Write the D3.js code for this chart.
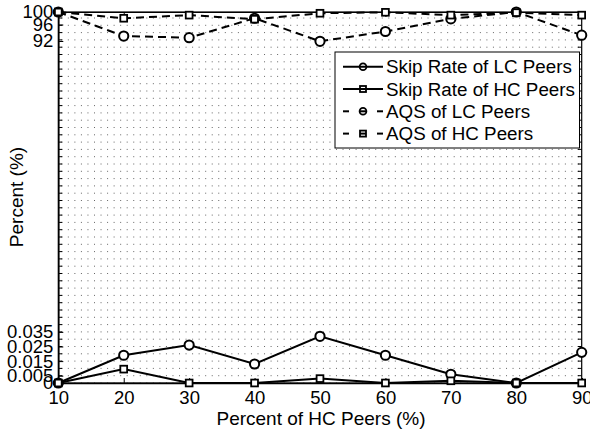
<!DOCTYPE html>
<html><head><meta charset="utf-8">
<script src="https://cdn.jsdelivr.net/npm/d3@7"></script>
<style>
html,body{margin:0;padding:0;background:#fff;}
text{font-family:"Liberation Sans",Arial,Helvetica,sans-serif;fill:#000;}
</style></head>
<body><svg id="c" width="590" height="436"></svg>
<script>
const categories = [10, 20, 30, 40, 50, 60, 70, 80, 90];
const skipLC = [0, 0.019, 0.026, 0.013, 0.032, 0.019, 0.006, 0, 0.021];
const skipHC = [0, 0.0095, 0, 0, 0.003, 0, 0.0015, 0, 0];
const aqsLC = [100, 93.2, 92.8, 98, 91.9, 94.3, 97.8, 100, 93.4];
const aqsHC = [100, 98, 99, 97.7, 99.6, 99.9, 99, 99.8, 99];
const yTickValues = [0, 0.005, 0.015, 0.025, 0.035, 92, 96, 100];
const yTickLabels = ["0", "0.005", "0.015", "0.025", "0.035", "92", "96", "100"];
const seriesNames = ["Skip Rate of LC Peers", "Skip Rate of HC Peers", "AQS of LC Peers", "AQS of HC Peers"];

const L = 58.3, R = 581.7, T = 12, B = 383;
const svg = d3.select("#c");
const x = d3.scaleLinear().domain([10, 90]).range([L, R]);
const yLow = d3.scaleLinear().domain([0, 0.01]).range([B, B - 14.6]);
const y = d3.scaleLinear().domain([0, 0.035, 92, 96, 100])
  .range([yLow(0), yLow(0.035), 41, 24.5, T]);

const rows = d3.range(0, 1, 0.005).filter(v => yLow(v) >= T + 3);
const grid = svg.append("g");
rows.forEach(v => {
  grid.append("line").attr("x1", L).attr("x2", R).attr("y1", yLow(v)).attr("y2", yLow(v))
    .attr("stroke", "#666").attr("stroke-width", 1).attr("stroke-dasharray", "1,5.54")
    .attr("stroke-dashoffset", -3);
});
rows.forEach(v => {
  svg.append("line").attr("x1", L).attr("x2", L + 4).attr("y1", yLow(v)).attr("y2", yLow(v)).attr("stroke", "#000");
  svg.append("line").attr("x1", R).attr("x2", R - 4).attr("y1", yLow(v)).attr("y2", yLow(v)).attr("stroke", "#000");
});

svg.append("rect").attr("x", L).attr("y", T).attr("width", R - L).attr("height", B - T)
  .attr("fill", "none").attr("stroke", "#000").attr("stroke-width", 1.2);

const xAxis = d3.axisBottom(x).tickValues(categories).tickSize(-5).tickPadding(8).tickFormat(d3.format("d"));
const gx = svg.append("g").attr("transform", `translate(0,${B})`).call(xAxis);
gx.select(".domain").attr("stroke", "#000").attr("stroke-width", 1.6);
gx.selectAll("text").attr("font-size", 18.5).attr("font-family", "Liberation Sans, Arial, sans-serif").attr("fill", "#000");
gx.selectAll(".tick line").attr("stroke", "#000");
const xTop = d3.axisTop(x).tickValues(categories).tickSize(-5).tickFormat("");
const gxt = svg.append("g").attr("transform", `translate(0,${T})`).call(xTop);
gxt.select(".domain").attr("stroke", "#000").attr("stroke-width", 1.2);

const yAxis = d3.axisLeft(y).tickValues(yTickValues).tickSize(-5).tickPadding(5)
  .tickFormat((d, i) => yTickLabels[i]);
const gy = svg.append("g").attr("transform", `translate(${L},0)`).call(yAxis);
gy.select(".domain").attr("stroke", "#000").attr("stroke-width", 1.6);
gy.selectAll("text").attr("font-size", 18.5).attr("font-family", "Liberation Sans, Arial, sans-serif").attr("fill", "#000");
gy.selectAll(".tick line").attr("stroke", "#000");

svg.append("text").attr("x", (L + R) / 2 + 1).attr("y", 425).attr("text-anchor", "middle")
  .attr("font-size", 19).text("Percent of HC Peers (%)");
svg.append("text").attr("transform", `translate(23,197) rotate(-90)`).attr("text-anchor", "middle")
  .attr("font-size", 19).text("Percent (%)");

const series = [
  {vals: skipLC, marker: "circle", dash: null},
  {vals: skipHC, marker: "square", dash: null},
  {vals: aqsLC, marker: "circle", dash: "8,5"},
  {vals: aqsHC, marker: "square", dash: "8,5"}
];
const line = d3.line().x((d, i) => x(categories[i])).y(d => y(d));
series.forEach(s => {
  svg.append("path").datum(s.vals).attr("d", line).attr("fill", "none").attr("stroke", "#000")
    .attr("stroke-width", 2).attr("stroke-dasharray", s.dash);
});
series.forEach(s => {
  const g = svg.append("g");
  s.vals.forEach((v, i) => {
    if (s.marker === "circle") {
      g.append("circle").attr("cx", x(categories[i])).attr("cy", y(v)).attr("r", 4.6)
        .attr("fill", "#fff").attr("stroke", "#000").attr("stroke-width", 2);
    } else {
      g.append("rect").attr("x", x(categories[i]) - 3.4).attr("y", y(v) - 3.4).attr("width", 6.8).attr("height", 6.8)
        .attr("fill", "#fff").attr("stroke", "#000").attr("stroke-width", 1.8);
    }
  });
});

const lg = svg.append("g");
lg.append("rect").attr("x", 335).attr("y", 52).attr("width", 244.5).attr("height", 96)
  .attr("fill", "#fff").attr("stroke", "#000").attr("stroke-width", 1);
series.forEach((s, i) => {
  const cy = 66.7 + i * 22.3;
  if (s.dash) {
    lg.append("line").attr("x1", 343).attr("x2", 349).attr("y1", cy).attr("y2", cy).attr("stroke", "#000").attr("stroke-width", 2);
    lg.append("line").attr("x1", 377).attr("x2", 383).attr("y1", cy).attr("y2", cy).attr("stroke", "#000").attr("stroke-width", 2);
    lg.append("line").attr("x1", 360).attr("x2", 366).attr("y1", cy).attr("y2", cy).attr("stroke", "#000").attr("stroke-width", 2);
  } else {
    lg.append("line").attr("x1", 343).attr("x2", 383).attr("y1", cy).attr("y2", cy).attr("stroke", "#000").attr("stroke-width", 2);
  }
  if (s.marker === "circle") {
    lg.append("circle").attr("cx", 363).attr("cy", cy).attr("r", 3.4).attr("fill", "none").attr("stroke", "#000").attr("stroke-width", 1.8);
  } else {
    lg.append("rect").attr("x", 360).attr("y", cy - 3).attr("width", 6).attr("height", 6).attr("fill", "none").attr("stroke", "#000").attr("stroke-width", 1.8);
  }
  lg.append("text").attr("x", 386).attr("y", cy + 6.5).attr("font-size", 18.8).text(seriesNames[i]);
});
</script></body></html>
